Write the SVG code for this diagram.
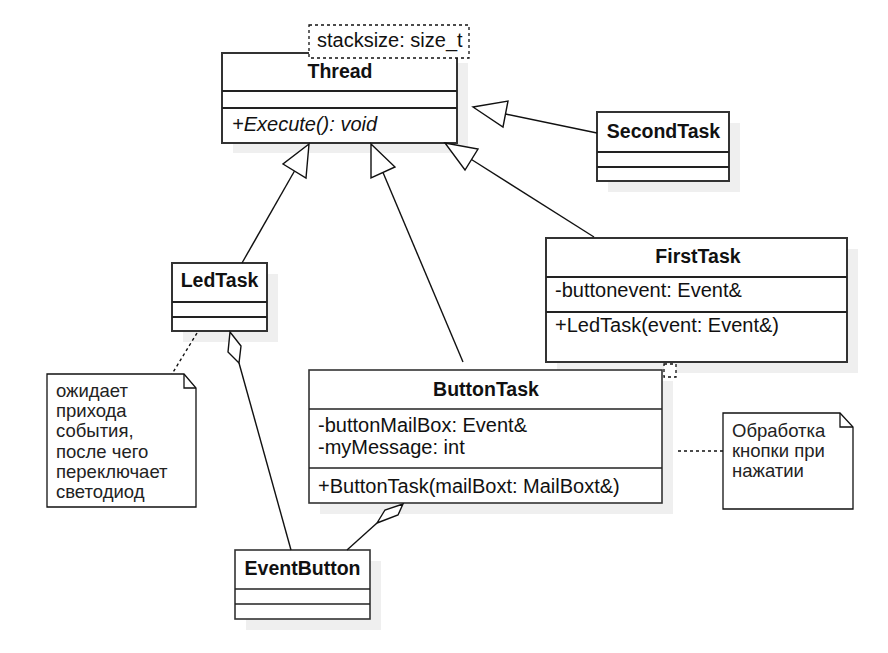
<svg xmlns="http://www.w3.org/2000/svg" width="888" height="653" viewBox="0 0 888 653">
<style>
text{font-family:"Liberation Sans",Arial,sans-serif;fill:#111;}
.t{font-size:19.5px;font-weight:bold;text-anchor:middle;}
.m{font-size:20px;}
.i{font-size:20px;font-style:italic;}
.n{font-size:18.5px;fill:#222;}
.box{fill:#fff;stroke:#333;stroke-width:2;}
.sep{stroke:#222;stroke-width:2;fill:none;}
.sh{fill:#efefef;stroke:none;}
.note{fill:#fff;stroke:#111;stroke-width:1.3;}
.dash{fill:#fff;stroke:#111;stroke-width:1.3;stroke-dasharray:3 3;}
.ln{stroke:#111;stroke-width:1.4;fill:none;}
.dl{stroke:#111;stroke-width:1.4;fill:none;stroke-dasharray:3 3;}
.tri{fill:#fff;stroke:#111;stroke-width:1.4;}
</style>
<g id="Thread">
<rect class="sh" x="233" y="63" width="235" height="90"/>
<rect class="box" x="222" y="53" width="235" height="90"/>
<line class="sep" x1="222" y1="91" x2="457" y2="91"/>
<line class="sep" x1="222" y1="108" x2="457" y2="108"/>
<text class="t" x="340" y="78">Thread</text>
<text class="i" x="232" y="131">+Execute(): void</text>
</g>
<g id="stacksize">
<rect class="dash" x="309" y="25" width="160" height="33"/>
<text class="m" x="317" y="47">stacksize: size_t</text>
</g>
<g id="SecondTask">
<rect class="sh" x="608" y="123" width="132" height="69"/>
<rect class="box" x="597" y="112" width="132" height="69"/>
<line class="sep" x1="597" y1="152" x2="729" y2="152"/>
<line class="sep" x1="597" y1="167" x2="729" y2="167"/>
<text class="t" x="663.5" y="138">SecondTask</text>
</g>
<g id="FirstTask">
<rect class="sh" x="557" y="249" width="301" height="124"/>
<rect class="box" x="546" y="238" width="301" height="124"/>
<line class="sep" x1="546" y1="277" x2="847" y2="277"/>
<line class="sep" x1="546" y1="312" x2="847" y2="312"/>
<text class="t" x="698" y="263">FirstTask</text>
<text class="m" x="555" y="297">-buttonevent: Event&amp;</text>
<text class="m" x="555" y="332">+LedTask(event: Event&amp;)</text>
</g>
<g id="LedTask">
<rect class="sh" x="183" y="274" width="95" height="68"/>
<rect class="box" x="172" y="263" width="95" height="68"/>
<line class="sep" x1="172" y1="302" x2="267" y2="302"/>
<line class="sep" x1="172" y1="317" x2="267" y2="317"/>
<text class="t" x="219.5" y="287">LedTask</text>
</g>
<g id="ButtonTask">
<rect class="sh" x="320" y="381" width="353" height="133"/>
<rect class="box" x="309" y="370" width="353" height="133" style="stroke-width:1.6"/>
<line class="sep" x1="309" y1="409" x2="662" y2="409" style="stroke-width:1.3"/>
<line class="sep" x1="309" y1="468" x2="662" y2="468" style="stroke-width:1.3"/>
<rect class="dash" x="664" y="364" width="12" height="13"/>
<text class="t" x="486" y="396">ButtonTask</text>
<text class="m" x="318" y="432">-buttonMailBox: Event&amp;</text>
<text class="m" x="318" y="454">-myMessage: int</text>
<text class="m" x="318" y="493">+ButtonTask(mailBoxt: MailBoxt&amp;)</text>
</g>
<g id="EventButton">
<rect class="sh" x="246" y="561" width="135" height="69"/>
<rect class="box" x="235" y="550" width="135" height="69" style="stroke-width:1.6"/>
<line class="sep" x1="235" y1="589" x2="370" y2="589" style="stroke-width:1.3"/>
<line class="sep" x1="235" y1="604" x2="370" y2="604" style="stroke-width:1.3"/>
<text class="t" x="302.5" y="575">EventButton</text>
</g>
<g id="note1">
<path class="note" d="M47,374 H184 L196,388 V507 H47 Z"/>
<path class="note" d="M184,374 V388 H196" style="fill:none"/>
<text class="n"><tspan x="56" y="397">ожидает</tspan><tspan x="56" y="417">прихода</tspan><tspan x="56" y="437">события,</tspan><tspan x="56" y="457.5">после чего</tspan><tspan x="56" y="478">переключает</tspan><tspan x="56" y="498">светодиод</tspan></text>
</g>
<g id="note2">
<path class="note" d="M723,413 H840 L853,427 V509 H723 Z"/>
<path class="note" d="M840,413 V427 H853" style="fill:none"/>
<text class="n"><tspan x="732" y="437">Обработка</tspan><tspan x="732" y="457">кнопки при</tspan><tspan x="732" y="477">нажатии</tspan></text>
</g>
<g id="connectors">
<line class="ln" x1="505.5" y1="114" x2="597" y2="133"/>
<polygon class="tri" points="473,107 508,101 503,127"/>
<line class="ln" x1="471.5" y1="159.5" x2="594" y2="237"/>
<polygon class="tri" points="445,143 478,149 465,170"/>
<line class="ln" x1="294.5" y1="171" x2="242" y2="263"/>
<polygon class="tri" points="309,144 283,164 306,178"/>
<line class="ln" x1="383" y1="172.5" x2="463" y2="362"/>
<polygon class="tri" points="371,144 395,167 371,178"/>
<line class="ln" x1="239" y1="363" x2="291" y2="550"/>
<polygon class="tri" points="230,332 241,346 239,363 228,352"/>
<line class="ln" x1="377" y1="523" x2="347" y2="550"/>
<polygon class="tri" points="403,504 398,515 377,523 385,510"/>
<line class="dl" x1="197" y1="333" x2="172" y2="374"/>
<line class="dl" x1="678" y1="451" x2="723" y2="451"/>
</g>
</svg>
